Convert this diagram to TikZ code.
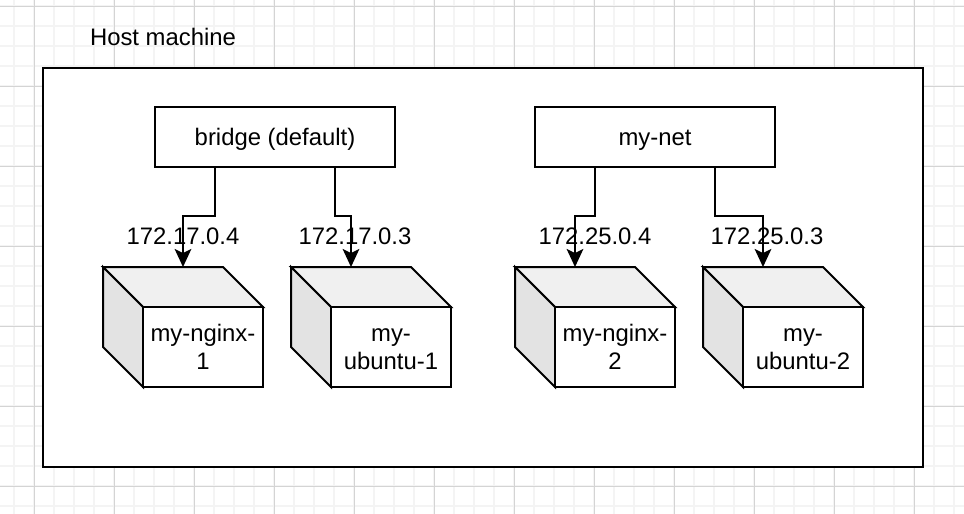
\documentclass[tikz,border=0pt]{standalone}
\usepackage{fontspec}
\setmainfont{Liberation Sans}
\usetikzlibrary{arrows.meta}
\definecolor{gridminor}{HTML}{F4F4F4}
\definecolor{gridmajor}{HTML}{D4D4D4}
\definecolor{cubetop}{HTML}{F0F0F0}
\definecolor{cubeside}{HTML}{E3E3E3}
\newcommand{\linestrut}{\rule[-1.5pt]{0pt}{15.5pt}}
\newcommand{\netstrut}{\rule[-1pt]{0pt}{17.5pt}}
\tikzset{
    label text/.style={font=\fontsize{17.9}{21}\selectfont, align=center, inner sep=0pt},
    netbox/.style={draw, line width=1.5pt, fill=white, minimum width=180pt, minimum height=45pt, outer sep=0pt, label text},
    cubefront/.style={draw, line width=1.5pt, fill=white, minimum width=90pt, minimum height=60pt, outer sep=0pt, label text},
    conn/.style={line width=1.5pt, -{Stealth[length=13.5pt, width=12.5pt, inset=3pt]}},
}
\begin{document}
\begin{tikzpicture}[x=0.75pt, y=-0.75pt, line join=miter]
    \useasboundingbox (0,0) rectangle (964,514);
    % grid
    \foreach \x in {14,34,...,954} \draw[gridminor, line width=1.1pt] (\x,0) -- (\x,514);
    \foreach \y in {6,26,...,506} \draw[gridminor, line width=1.1pt] (0,\y) -- (964,\y);
    \foreach \x in {34.5,114.5,...,914.5} \draw[gridmajor, line width=0.75pt] (\x,0) -- (\x,514);
    \foreach \y in {6.5,86.5,...,486.5} \draw[gridmajor, line width=0.75pt] (0,\y) -- (964,\y);

    \node[label text] (hostlabel) at (163,37) {\linestrut Host machine};
    \node[draw, line width=1.5pt, fill=white, minimum width=660pt, minimum height=299.25pt, outer sep=0pt] (host) at (483,267.5) {};

    \node[netbox] (bridge) at (275,137) {\netstrut bridge (default)};
    \node[netbox] (mynet) at (655,137) {\netstrut my-net};

    % containers
    \foreach \name/\x/\tipx/\txt in {nginxa/203/183/{my-nginx-\\\linestrut 1}, ubuntua/391/351/{my-\\\linestrut ubuntu-1}, nginxb/615/575/{my-nginx-\\\linestrut 2}, ubuntub/803/763/{my-\\\linestrut ubuntu-2}} {
        \filldraw[line width=1.5pt, fill=cubetop] (\x-100,267) -- (\x+20,267) -- (\x+60,307) -- (\x-60,307) -- cycle;
        \filldraw[line width=1.5pt, fill=cubeside] (\x-100,267) -- (\x-60,307) -- (\x-60,387) -- (\x-100,347) -- cycle;
        \node[cubefront] (\name) at (\x,347) {\linestrut\txt};
        \coordinate (\name top) at (\tipx,267);
    }

    \coordinate (bridgea) at (215,167);
    \coordinate (bridgeb) at (335,167);
    \coordinate (mynetb) at (595,167);
    \coordinate (mynetc) at (715,167);
    \draw[conn] (bridgea) -- ++(0,49) -| (nginxatop);
    \draw[conn] (bridgeb) -- ++(0,49) -| (ubuntuatop);
    \draw[conn] (mynetb) -- ++(0,49) -| (nginxbtop);
    \draw[conn] (mynetc) -- ++(0,49) -| (ubuntubtop);

    \node[label text] (ipa) at (183,236) {172.17.0.4};
    \node[label text] (ipb) at (355,236) {172.17.0.3};
    \node[label text] (ipc) at (595,236) {172.25.0.4};
    \node[label text] (ipd) at (767,236) {172.25.0.3};
\end{tikzpicture}
\end{document}
